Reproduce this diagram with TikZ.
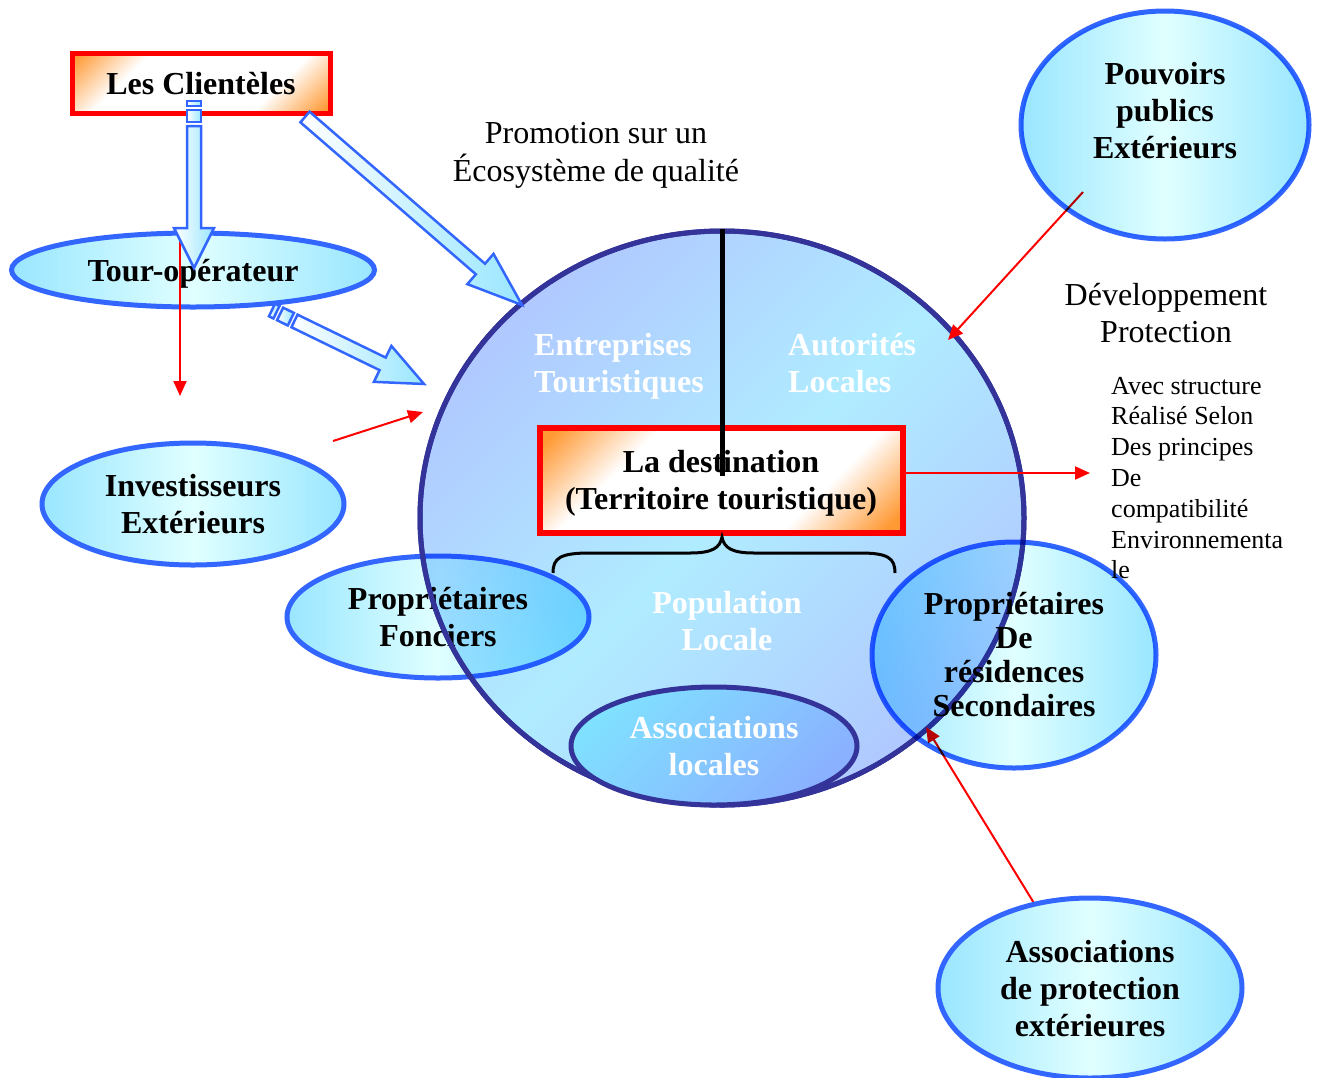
\documentclass[tikz,border=0pt]{standalone}
\usepackage{fontspec}
\setmainfont{Liberation Serif}
\usepackage{tikz}
\usetikzlibrary{calc}
\usetikzlibrary{shapes.geometric, arrows.meta, positioning}

\definecolor{ovalblue}{HTML}{3366FF}
\definecolor{navyline}{HTML}{333399}
\definecolor{ovaledge}{HTML}{99E6FF}
\definecolor{ovalmid}{HTML}{E0FFFF}
\definecolor{boxorange}{HTML}{FF9933}
\definecolor{terrblue}{HTML}{B0C8FF}
\definecolor{terrcyan}{HTML}{B0ECFF}
\definecolor{assocblue}{HTML}{8AB0FF}
\definecolor{assoccyan}{HTML}{80E0FF}

\pgfdeclareverticalshading{cornerglow}{100bp}{color(0bp)=(boxorange); color(29bp)=(boxorange);
  color(39bp)=(white); color(61bp)=(white); color(71bp)=(boxorange); color(100bp)=(boxorange)}

\newcommand{\diagbold}{\fontsize{32}{37}\selectfont\bfseries}
\newcommand{\diagplain}{\fontsize{32}{38}\selectfont}
\newcommand{\diagsmall}{\fontsize{26}{30.8}\selectfont}

% hollow block arrow: from #1 to #2, head length #3, #4=1 gives the two stripes
\newcommand{\blockarrow}[4]{%
  \path let \p1=($(#2)-(#1)$) in
    \pgfextra{\pgfmathsetmacro\arrang{atan2(\y1,\x1)}%
              \pgfmathsetmacro\arrlen{veclen(\x1,\y1)}%
              \xdef\arrang{\arrang}\xdef\arrlen{\arrlen}};
  \begin{scope}[shift={(#1)}, rotate=\arrang]
    \ifnum#4=1
      \draw[fatarrow] (0,-7) rectangle (5,7);
      \draw[fatarrow] (9,-7) rectangle (21,7);
      \def\arrbase{25}
    \else
      \def\arrbase{0}
    \fi
    \draw[fatarrow] (\arrbase,-7) -- ({\arrlen-#3},-7) -- ({\arrlen-#3},-20)
      -- (\arrlen,0) -- ({\arrlen-#3},20) -- ({\arrlen-#3},7) -- (\arrbase,7) -- cycle;
  \end{scope}
}

\begin{document}
\begin{tikzpicture}[x=1pt, y=-1pt,
    oval/.style={ellipse, draw=ovalblue, line width=5, inner sep=0,
      left color=ovaledge, right color=ovaledge, middle color=ovalmid,
      font=\diagbold, align=center},
    redbox/.style={rectangle, draw=red, line width=5, inner sep=0, fill=white,
      path picture={\shade[shading=cornerglow, shading angle=45]
        ($(path picture bounding box.center)+(-#1/2,-#1/2)$) rectangle ++(#1,#1);},
      font=\diagbold, align=center, text depth=0},
    whitetxt/.style={text=white, font=\diagbold, align=left, inner sep=0},
    redarrow/.style={draw=red, line width=2, -{Triangle[length=15pt, width=13pt]}},
    fatarrow/.style={draw=ovalblue, line width=2.5, left color=white, right color=ovaledge}]

\useasboundingbox (0,0) rectangle (1317,1077);

% Outside actors on the left
\node[redbox=258, minimum width=258, minimum height=60] (clients) at (201,83) {Les Clientèles};
\node[oval, text depth=0, minimum width=363, minimum height=74] (tourop) at (193,270) {Tour-opérateur};
\node[oval, text depth=0, minimum width=302, minimum height=122] (invest) at (193,504) {Investisseurs\\Extérieurs};
\node[oval, text depth=0, minimum width=302, minimum height=122] (fonciers) at (438,617) {Propriétaires\\Fonciers};

% The territory
\begin{scope}[blend mode=multiply]
\node[ellipse, draw=navyline, line width=5, minimum width=604, minimum height=574,
  top color=terrblue, bottom color=terrblue, middle color=terrcyan, shading angle=45] (terr) at (722,518) {};
\end{scope}
\draw[navyline, line width=5] (terr.center) ellipse [x radius=302, y radius=287];
\node[whitetxt, anchor=west] (entrep) at (534,366) {Entreprises\\Touristiques};
\node[whitetxt, anchor=west] (autor) at (788,363) {Autorités\\Locales};
\node[whitetxt, align=center] (popul) at (727,621) {Population\\Locale};
\node[ellipse, draw=navyline, line width=5, minimum width=286, minimum height=118,
  top color=assoccyan, bottom color=assocblue, shading angle=45,
  text=white, font=\diagbold, align=center, inner sep=0, text depth=0] (assoc) at (714,746) {Associations\\locales};

\node[redbox=363, line width=6, minimum width=363, minimum height=105] (dest) at (721,480)
  {La destination\\(Territoire touristique)};

% Split line and brace
\coordinate (splitend) at (722,476);
\draw[line width=5] (terr.north) -- (splitend);
\draw[line width=3] (553,573) .. controls (553,558) and (560,553) .. (590,553) -- (690,553)
  .. controls (712,553) and (720,548) .. (722,537)
  .. controls (724,548) and (732,553) .. (754,553) -- (860,553)
  .. controls (888,553) and (895,558) .. (895,573);

% Red links
\coordinate (to-src) at (180,238);
\coordinate (to-end) at (180,396);
\coordinate (inv-src) at (333,441);
\coordinate (inv-end) at (423,412);
\coordinate (pp-src) at (1083,192);
\coordinate (pp-end) at (948,340);
\coordinate (dev-end) at (1090,473);
\coordinate (prot-src) at (1037,908);
\coordinate (prot-end) at (926,727);

\draw[redarrow] (to-src) -- (to-end);
\draw[redarrow] (inv-src) -- (inv-end);
\draw[redarrow] (pp-src) -- (pp-end);
\draw[redarrow] (dest.east |- dev-end) -- (dev-end);
\draw[redarrow] (prot-src) -- (prot-end);

% Outside actors on the right
\begin{scope}[blend mode=multiply]
\node[oval, minimum width=288, minimum height=228] (pouvoirs) at (1165,125) {};
\node[oval, minimum width=284, minimum height=226,
  font=\fontsize{32}{34}\selectfont\bfseries] (second) at (1014,655)
  {Propriétaires\\De\\résidences\\Secondaires};
\end{scope}
\node[font=\diagbold, align=center, inner sep=0] (pouvoirs-txt) at ($(pouvoirs)+(0,-14)$)
  {Pouvoirs\\publics\\Extérieurs};
\node[oval, text depth=0, minimum width=304, minimum height=180] (protect) at (1090,988)
  {Associations\\de protection\\extérieures};

% Plain texts
\node[font=\diagplain, align=center, inner sep=0] (promo) at (596,155)
  {Promotion sur un\\Écosystème de qualité};
\node[font=\fontsize{32}{37}\selectfont, align=center, inner sep=0] (devel) at (1166,313)
  {Développement\\Protection};
\node[font=\diagsmall, align=left, inner sep=0, anchor=west] (avec) at (1111,478)
  {Avec structure\\Réalisé Selon\\Des principes\\De\\compatibilité\\Environnementa\\le};

% Block arrows
\coordinate (cl-a) at (194,101);
\coordinate (cl-b) at (194,268);
\coordinate (cl-c) at (305,117);
\coordinate (cl-d) at (522,305);
\coordinate (to-a) at (272,310);
\coordinate (to-b) at (424,384);
\blockarrow{cl-a}{cl-b}{40}{1}
\blockarrow{cl-c}{cl-d}{55}{0}
\blockarrow{to-a}{to-b}{46}{1}

\end{tikzpicture}
\end{document}
